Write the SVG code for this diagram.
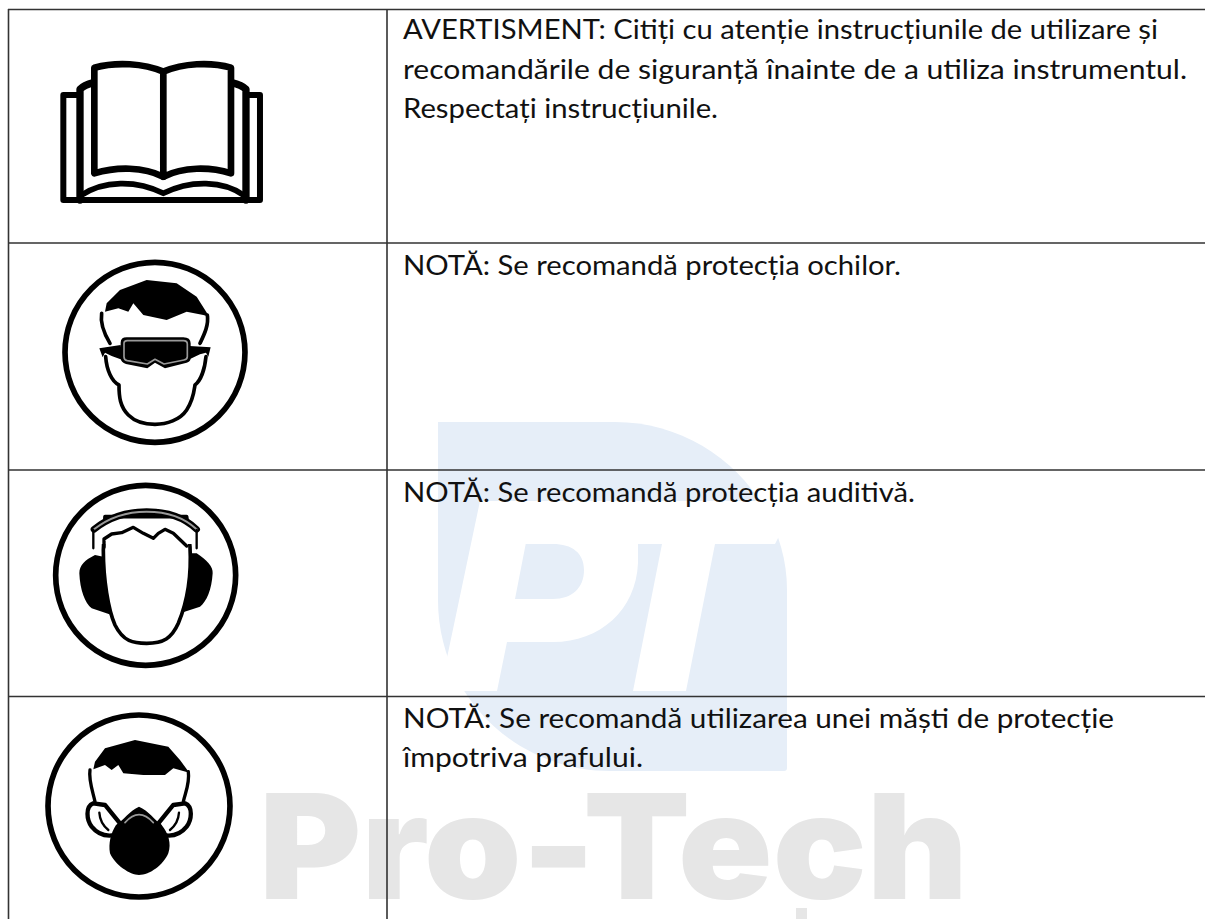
<svg xmlns="http://www.w3.org/2000/svg" width="1205" height="919" viewBox="0 0 1205 919">
<style>
.t{font-family:"Lato","Carlito","Liberation Sans",sans-serif;font-size:27px;fill:#111}
.l{stroke:#333;stroke-width:1.6;fill:none}
.k{fill:#000;stroke:none}
.o{fill:none;stroke:#000;stroke-linejoin:round;stroke-linecap:round}
.w{fill:#fff;stroke:#000;stroke-linejoin:round}
.c{fill:#fff;stroke:#000;stroke-width:17}
.g{fill:none;stroke:#999;stroke-linejoin:round;stroke-linecap:round}
</style>
<rect width="1205" height="919" fill="#fff"/>
<g id="watermark">
<path d="M438 422H615C710 422 787 500 787 590V768Q787 771 784 771H610C515 771 438 695 438 600Z" fill="#e6eef8"/>
<path fill-rule="evenodd" fill="#fff" d="M480 501H797L775 544H715L686 691H633L662 544H638V563C636 610 600 642 553 642H507L497 691H440ZM525.7 544H553C572 544 584 553 584 570C584 588 572 599 553 599H515Z"/>
<text x="259" y="899" font-family="Inter,'DejaVu Sans',sans-serif" font-weight="900" font-size="146" textLength="709" lengthAdjust="spacingAndGlyphs" fill="#e6e6e6">Pro-Tech</text>
<rect x="796" y="908" width="11" height="11" fill="#e6e6e6"/>
</g>
<g id="table">
<path class="l" d="M8 9.5H1205M8.5 9V919M387 9V919M8 243H1205M8 470H1205M8 696.5H1205"/>
</g>
<g id="row1">
<g id="book" transform="translate(30 30) scale(.3333)">
<path class="o" stroke-width="18" d="M150 510H100V195H150M150 510H690V195H650"/>
<path class="o" stroke-width="22" d="M150 510V178Q162 165 190 158M648 510V178Q636 165 605 158"/>
<path class="w" stroke-width="17" d="M150 498C220 450 320 450 400 490C480 450 580 450 645 498" fill="none"/>
<path class="w" stroke-width="20" d="M193 113C260 95 340 100 400 125V440C340 410 260 410 193 430Z"/>
<path class="w" stroke-width="20" d="M400 125C460 100 540 95 603 113V430C540 410 460 410 400 440Z"/>
</g>
<text class="t" x="403" y="39" textLength="755" lengthAdjust="spacingAndGlyphs">AVERTISMENT: Citiți cu atenție instrucțiunile de utilizare și</text>
<text class="t" x="403" y="79" textLength="784" lengthAdjust="spacingAndGlyphs">recomandările de siguranță înainte de a utiliza instrumentul.</text>
<text class="t" x="403" y="118" textLength="315" lengthAdjust="spacingAndGlyphs">Respectați instrucțiunile.</text>
</g>
<g id="row2">
<g id="goggles" transform="translate(40 260) scale(.3333)">
<circle class="c" cx="345" cy="277" r="270"/>
<path class="o" stroke-width="11" d="M185 160C180 190 195 225 210 250M502 165C507 195 492 225 480 250"/>
<path class="o" stroke-width="11" d="M197 290C200 330 215 365 237 375C237 410 240 440 265 465C290 490 320 493 345 493C380 493 420 480 440 450C460 420 462 395 465 375C485 360 495 320 498 290"/>
<path class="k" d="M200 130L240 90L320 60L410 70L470 110L508 170L490 165L440 155L380 180L310 165L280 130L265 155L235 145L195 155Z"/>
<path class="k" d="M178 265L242 255L248 300L215 288L195 278L188 292ZM512 262L448 258L444 300L480 283L498 278L505 290Z"/>
<path class="k" d="M242 248Q242 232 260 232H430Q452 232 452 250V295Q452 305 440 308L375 325L345 308L322 325L258 312Q243 308 242 295Z"/>
<path class="g" stroke-width="5" d="M252 250Q252 242 262 242H430Q442 242 442 252V290Q442 298 432 300L372 312L345 298L322 312L262 302Q252 300 252 290Z"/>
</g>
</g>
<text class="t" x="403" y="275" textLength="498" lengthAdjust="spacingAndGlyphs">NOTĂ: Se recomandă protecția ochilor.</text>
<g id="row3">
<g id="earmuffs" transform="translate(40 470) scale(.3333)">
<circle class="c" cx="317" cy="316" r="270"/>
<path class="k" d="M165 255C135 270 118 285 118 310C120 360 135 400 155 415L215 435L190 260ZM470 250C500 270 520 290 518 310C515 360 500 395 480 410L420 430L450 250Z"/>
<path class="w" stroke-width="11" d="M190 240C190 330 205 420 225 465C250 515 280 520 320 520C370 520 395 505 415 460C440 400 455 320 450 230L440 140H195Z"/>
<path fill="#fff" d="M172 150H460V222H172Z"/>
<path class="o" stroke-width="20" d="M162 178C220 132 280 125 320 125C380 125 430 140 470 178"/>
<path class="g" stroke-width="6" d="M162 178C220 132 280 125 320 125C380 125 430 140 470 178"/>
<path class="o" stroke-width="7" d="M160 180V235M470 180V235"/>
<path class="o" stroke-width="10" d="M192 232L192 207L215 192L245 188L280 172L310 190L340 205L355 190L375 178L400 190L440 228"/>
</g>
</g>
<text class="t" x="403" y="502" textLength="512" lengthAdjust="spacingAndGlyphs">NOTĂ: Se recomandă protecția auditivă.</text>
<g id="row4">
<g id="mask" transform="translate(40 690) scale(.3333)">
<circle class="c" cx="297" cy="348" r="273"/>
<path class="o" stroke-width="10" d="M150 240C145 270 160 310 165 335M445 245C450 280 435 310 430 335"/>
<path class="k" d="M165 215L195 175L285 150L385 170L420 210L448 248L400 235L375 255L310 255L250 250L235 225L215 240L195 225L160 238Z"/>
<path class="w" stroke-width="13" d="M160 340C135 350 140 390 155 410C175 435 200 440 225 435L240 400L195 345Z"/>
<path class="w" stroke-width="13" d="M435 340C460 350 455 390 440 410C420 435 395 440 370 435L355 400L400 345Z"/>
<path class="o" stroke-width="7" d="M178 368Q180 400 205 420M417 368Q415 400 390 420"/>
<path class="k" d="M297 350C270 362 250 390 228 405C212 430 205 460 210 490C225 525 270 555 297 555C330 555 370 525 385 490C395 460 385 430 365 405C345 390 325 362 297 350Z"/>
<path class="g" stroke-width="5" d="M255 398Q297 350 340 398"/>
</g>
</g>
<text class="t" x="403" y="728" textLength="711" lengthAdjust="spacingAndGlyphs">NOTĂ: Se recomandă utilizarea unei măști de protecție</text>
<text class="t" x="403" y="767" textLength="240" lengthAdjust="spacingAndGlyphs">împotriva prafului.</text>
</svg>
